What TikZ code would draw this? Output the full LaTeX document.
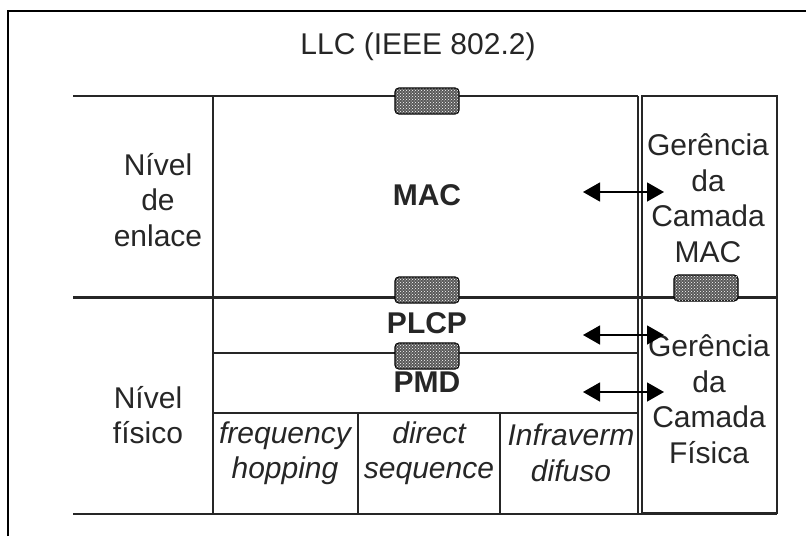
\documentclass[tikz,border=0pt]{standalone}
\usepackage{fontspec}
\setmainfont{Liberation Sans}
\usetikzlibrary{arrows.meta,patterns}
\begin{document}
\begin{tikzpicture}[x=1pt,y=-1pt,
  txt/.style={font=\fontsize{30}{35.5}\selectfont, align=center, inner sep=0pt, text=black!85},
  btxt/.style={txt, font=\fontsize{30}{35.5}\selectfont\bfseries},
  itxt/.style={txt, font=\fontsize{30}{35.5}\selectfont\itshape},
  sap/.style={draw=black, line width=1.2pt, rounded corners=4pt, fill=black!65,
    minimum width=64pt, minimum height=26pt, inner sep=0pt,
    postaction={pattern=crosshatch dots, pattern color=white}},
  thin/.style={line width=1.6pt, black!85},
  thick/.style={line width=3pt, black!85},
  frame/.style={line width=2.2pt, black},
  biarrow/.style={line width=1.4pt, black, {Triangle[width=19pt,length=17pt]}-{Triangle[width=19pt,length=17pt]}}
]
\useasboundingbox (0,0) rectangle (806,536);
% outer frame (top and left)
\draw[frame] (8,536) -- (8,11) -- (806,11);
% main lines
\draw[thin] (73,96) -- (638,96);
\draw[thin] (213,96) -- (213,514);
\draw[thin] (638,96) -- (638,514);
\draw[thin] (642,96) rectangle (777,513);
\draw[thick] (73,297) -- (777,297);
\draw[thin] (213,353) -- (638,353);
\draw[thin] (213,413) -- (638,413);
\draw[thin] (358,413) -- (358,514);
\draw[thin] (500,413) -- (500,514);
\draw[thin] (73,514) -- (777,514);
% access points
\node[sap] (s1) at (427,101) {};
\node[sap] (s2) at (427,290) {};
\node[sap] (s3) at (427,356) {};
\node[sap] (s4) at (706,288) {};
% texts
\node[txt] (llc) at (418,47) {LLC (IEEE 802.2)};
\node[txt] (enl) at (158,200) {Nível\\de\\enlace};
\node[txt] (fis) at (148,415) {Nível\\físico};
\node[btxt] (mac) at (427,195) {MAC};
\node[btxt] (plcp) at (427,323) {PLCP};
\node[btxt] (pmd) at (427,382) {PMD};
\node[txt] (gmac) at (708,198) {Gerência\\da\\Camada\\MAC};
\node[txt] (gfis) at (709,399) {Gerência\\da\\Camada\\Física};
\node[itxt] (fh) at (285,453) {frequency\\hopping};
\node[itxt] (ds) at (429,453) {direct\\sequence};
\node[itxt] (ir) at (571,453) {Infraverm\\difuso};
% arrows
\coordinate (a1l) at (583,192); \coordinate (a1r) at (664,192);
\coordinate (a2l) at (583,335); \coordinate (a2r) at (664,335);
\coordinate (a3l) at (583,392); \coordinate (a3r) at (664,392);
\draw[biarrow] (a1l) -- (a1r);
\draw[biarrow] (a2l) -- (a2r);
\draw[biarrow] (a3l) -- (a3r);
\end{tikzpicture}
\end{document}
